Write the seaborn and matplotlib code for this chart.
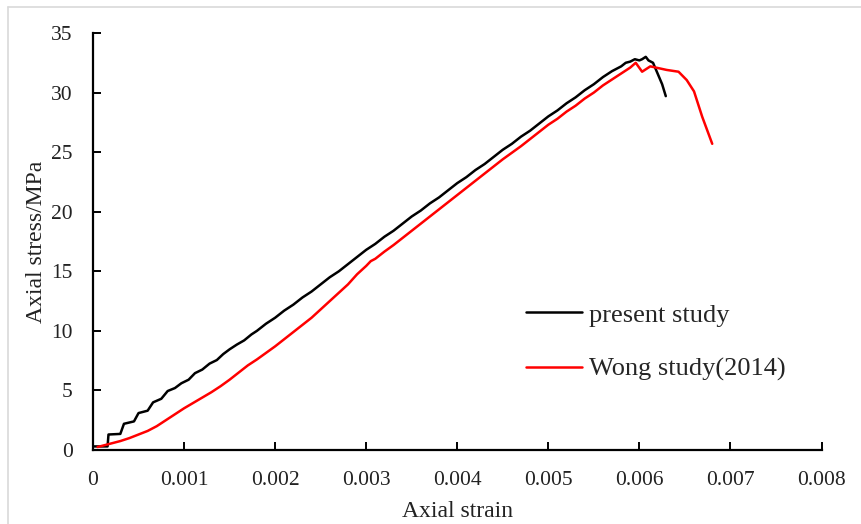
import matplotlib
matplotlib.use("Agg")
import matplotlib.pyplot as plt
import matplotlib.lines as mlines
import seaborn as sns
import pandas as pd

# ---- data ----
present_strain = [0.0, 0.00016, 0.00017, 0.00030, 0.00034, 0.00045, 0.00050, 0.00060,
                  0.00066, 0.00075, 0.00082, 0.00090, 0.00097, 0.00105, 0.00112, 0.00120,
                  0.00128, 0.00136, 0.00143, 0.00150, 0.00158, 0.00166, 0.00174, 0.0018,
                  0.0019, 0.0020, 0.0021, 0.0022, 0.0023, 0.0024, 0.0025, 0.0026, 0.0027,
                  0.0028, 0.0029, 0.0030, 0.0031, 0.0032, 0.0033, 0.0034, 0.0035, 0.0036,
                  0.0037, 0.0038, 0.0039, 0.0040, 0.0041, 0.0042, 0.0043, 0.0044, 0.0045,
                  0.0046, 0.0047, 0.0048, 0.0049, 0.0050, 0.0051, 0.0052, 0.0053, 0.0054,
                  0.0055, 0.0056, 0.0057, 0.0058, 0.00585, 0.0059, 0.00595, 0.0060,
                  0.00603, 0.00607, 0.00610, 0.00615, 0.00620, 0.00625, 0.00629]
present_stress = [0.30, 0.30, 1.30, 1.35, 2.20, 2.40, 3.10, 3.30,
                  4.00, 4.30, 4.95, 5.20, 5.60, 5.90, 6.45, 6.75,
                  7.25, 7.55, 8.05, 8.45, 8.85, 9.20, 9.70, 10.0,
                  10.6, 11.1, 11.7, 12.2, 12.8, 13.3, 13.9, 14.5, 15.0,
                  15.6, 16.2, 16.8, 17.3, 17.9, 18.4, 19.0, 19.6, 20.1,
                  20.7, 21.2, 21.8, 22.4, 22.9, 23.5, 24.0, 24.6, 25.2,
                  25.7, 26.3, 26.8, 27.4, 28.0, 28.5, 29.1, 29.6, 30.2,
                  30.7, 31.3, 31.8, 32.2, 32.5, 32.6, 32.8, 32.7,
                  32.8, 33.0, 32.7, 32.5, 31.6, 30.7, 29.7]

wong_strain = [0.00005, 0.00015, 0.0003, 0.0004, 0.0005, 0.0006, 0.0007, 0.0008, 0.0009,
               0.0010, 0.0011, 0.0012, 0.0013, 0.0014, 0.0015, 0.0016, 0.0017, 0.0018,
               0.0019, 0.0020, 0.0021, 0.0022, 0.0023, 0.0024, 0.0025, 0.0026, 0.0027,
               0.0028, 0.0029, 0.0030, 0.00305, 0.0031, 0.0032, 0.0033, 0.0034, 0.0035,
               0.0036, 0.0037, 0.0038, 0.0039, 0.0040, 0.0041, 0.0042, 0.0043, 0.0044,
               0.0045, 0.0046, 0.0047, 0.0048, 0.0049, 0.0050, 0.0051, 0.0052, 0.0053,
               0.0054, 0.0055, 0.0056, 0.0057, 0.0058, 0.0059, 0.00596, 0.00603, 0.00612,
               0.0063, 0.00643, 0.00652, 0.0066, 0.00669, 0.0068]
wong_stress = [0.25, 0.45, 0.75, 1.0, 1.3, 1.6, 2.0, 2.5, 3.0,
               3.5, 3.95, 4.4, 4.85, 5.35, 5.9, 6.5, 7.1, 7.6,
               8.15, 8.7, 9.3, 9.9, 10.5, 11.1, 11.8, 12.5, 13.2,
               13.9, 14.75, 15.45, 15.85, 16.05, 16.65, 17.2, 17.8, 18.4,
               19.0, 19.6, 20.2, 20.8, 21.4, 22.0, 22.6, 23.2, 23.8,
               24.4, 24.95, 25.5, 26.1, 26.7, 27.3, 27.8, 28.4, 28.9,
               29.5, 30.0, 30.6, 31.1, 31.6, 32.1, 32.5, 31.75, 32.2,
               31.9, 31.75, 31.05, 30.1, 27.97, 25.7]

series_names = ["present study", "Wong study(2014)"]
series_colors = ["#000000", "#ff0000"]
x_ticks = [0, 0.001, 0.002, 0.003, 0.004, 0.005, 0.006, 0.007, 0.008]
x_tick_labels = ["0", "0.001", "0.002", "0.003", "0.004", "0.005", "0.006", "0.007", "0.008"]
y_ticks = [0, 5, 10, 15, 20, 25, 30, 35]

df = pd.concat([
    pd.DataFrame({"strain": present_strain, "stress": present_stress, "series": series_names[0]}),
    pd.DataFrame({"strain": wong_strain, "stress": wong_stress, "series": series_names[1]}),
], ignore_index=True)

sns.set_style("white")
plt.rcParams["font.family"] = ["Liberation Serif", "DejaVu Serif"]

fig = plt.figure(figsize=(8.61, 5.24), dpi=100)
ax = fig.add_axes([93 / 861, 1 - 450 / 524, (821.5 - 93) / 861, (450 - 33) / 524])

sns.lineplot(data=df, x="strain", y="stress", hue="series", hue_order=series_names,
             palette=series_colors, sort=False, estimator=None, linewidth=1.8,
             legend=False, ax=ax)

ax.set_xlim(0, 0.008)
ax.set_ylim(0, 35)
ax.set_xticks(x_ticks)
ax.set_xticklabels(x_tick_labels)
ax.set_yticks(y_ticks)
ax.tick_params(bottom=True, left=True, direction="in", length=5.5, width=1.4,
               labelsize=15.5, labelcolor="#222222", color="#000000")
ax.tick_params(axis="x", pad=15)
ax.tick_params(axis="y", pad=14.5)
for s in ["top", "right"]:
    ax.spines[s].set_visible(False)
for s in ["left", "bottom"]:
    ax.spines[s].set_linewidth(1.6)
    ax.spines[s].set_color("#000000")

ax.set_xlabel("Axial strain", fontsize=17, color="#222222", labelpad=8)
ax.set_ylabel("Axial stress/MPa", fontsize=17, color="#222222", labelpad=3)

handles = [mlines.Line2D([], [], color=c, linewidth=1.8) for c in series_colors]
ax.legend(handles, series_names, loc="upper left", bbox_to_anchor=(0.594, 0.352),
          frameon=False, fontsize=19, handlelength=2.15, handletextpad=0.25,
          labelspacing=1.16, borderpad=0, borderaxespad=0)

# light grey frame edges of the original picture
fig.add_artist(mlines.Line2D([8 / 861, 1], [1 - 7 / 524, 1 - 7 / 524],
                             transform=fig.transFigure, color="#d9d9d9", linewidth=1.2))
fig.add_artist(mlines.Line2D([8 / 861, 8 / 861], [0, 1 - 7 / 524],
                             transform=fig.transFigure, color="#d9d9d9", linewidth=1.2))

fig.savefig("out.png", dpi=100)
